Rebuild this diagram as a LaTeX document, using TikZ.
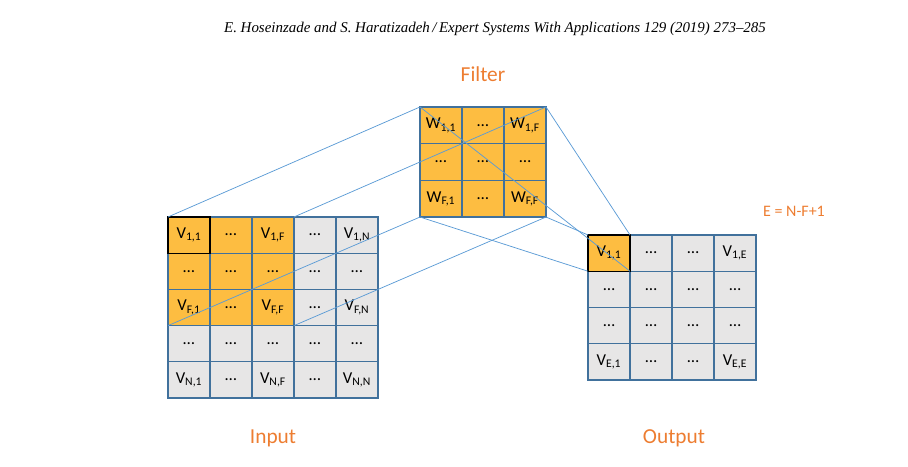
\documentclass[tikz,border=0pt]{standalone}
\usepackage{fontspec}
\setmainfont{Carlito}
\newfontfamily\headfont[Ligatures=TeX]{Liberation Serif}
\definecolor{cellorange}{HTML}{FDBD41}
\definecolor{cellgray}{HTML}{E7E6E6}
\definecolor{gridblue}{HTML}{41719C}
\definecolor{linkblue}{HTML}{5B9BD5}
\definecolor{labelorange}{HTML}{ED7D31}
\newcommand\sub[2]{\textsubscript{#1,#2}}
\newcommand\dd{\dots}

\begin{document}
\begin{tikzpicture}[x=0.75pt,y=-0.75pt,
	cell/.style={draw=gridblue,line width=1pt,fill=cellgray,minimum width=31.5pt,minimum height=27.2pt,inner sep=0pt,outer sep=0pt,font=\fontsize{12.5}{14}\selectfont},
	hot/.style={fill=cellorange},
	link/.style={draw=linkblue,line width=0.55pt},
	title/.style={text=labelorange,font=\fontsize{16}{19}\selectfont}]

	\useasboundingbox (0,0) rectangle (908,467);

	\node[font=\headfont\itshape\fontsize{11.2}{14}\selectfont] (head) at (495,29) {E. Hoseinzade and S. Haratizadeh\,/\,Expert Systems With Applications 129 (2019) 273--285};

	% input
	\foreach \t [count=\j] in {V\sub11,\dd,V\sub1F} \node[cell,hot] (in-1-\j) at ({147+42*\j},235.1) {\t};
	\foreach \t [count=\j from 4] in {\dd,V\sub1N} \node[cell] (in-1-\j) at ({147+42*\j},235.1) {\t};
	\foreach \t [count=\j] in {\dd,\dd,\dd} \node[cell,hot] (in-2-\j) at ({147+42*\j},271.3) {\t};
	\foreach \t [count=\j from 4] in {\dd,\dd} \node[cell] (in-2-\j) at ({147+42*\j},271.3) {\t};
	\foreach \t [count=\j] in {V\sub F1,\dd,V\sub FF} \node[cell,hot] (in-3-\j) at ({147+42*\j},307.5) {\t};
	\foreach \t [count=\j from 4] in {\dd,V\sub FN} \node[cell] (in-3-\j) at ({147+42*\j},307.5) {\t};
	\foreach \t [count=\j] in {\dd,\dd,\dd,\dd,\dd} \node[cell] (in-4-\j) at ({147+42*\j},343.7) {\t};
	\foreach \t [count=\j] in {V\sub N1,\dd,V\sub NF,\dd,V\sub NN} \node[cell] (in-5-\j) at ({147+42*\j},379.9) {\t};
	\draw[black,line width=1pt] (in-1-1.north west) rectangle (in-1-1.south east);

	% filter
	\foreach \t [count=\j] in {W\sub11,\dd,W\sub1F} \node[cell,hot,minimum height=27.5pt] (fl-1-\j) at ({399+42*\j},125.3) {\t};
	\foreach \t [count=\j] in {\dd,\dd,\dd} \node[cell,hot,minimum height=27.5pt] (fl-2-\j) at ({399+42*\j},162) {\t};
	\foreach \t [count=\j] in {W\sub F1,\dd,W\sub FF} \node[cell,hot,minimum height=27.5pt] (fl-3-\j) at ({399+42*\j},198.7) {\t};

	% output
	\foreach \t [count=\j] in {V\sub11,\dd,\dd,V\sub1E} \node[cell] (out-1-\j) at ({567+42*\j},253.1) {\t};
	\foreach \t [count=\j] in {\dd,\dd,\dd,\dd} \node[cell] (out-2-\j) at ({567+42*\j},289.4) {\t};
	\foreach \t [count=\j] in {\dd,\dd,\dd,\dd} \node[cell] (out-3-\j) at ({567+42*\j},325.6) {\t};
	\foreach \t [count=\j] in {V\sub E1,\dd,\dd,V\sub EE} \node[cell] (out-4-\j) at ({567+42*\j},361.9) {\t};
	\node[cell,hot,draw=black] (out-hot) at (out-1-1) {V\sub11};

	% receptive field
	\draw[link] (in-1-1.north west) -- (fl-1-1.north west);
	\draw[link] (in-1-3.north east) -- (fl-1-3.north east);
	\draw[link] (in-3-1.south west) -- (fl-3-1.south west);
	\draw[link] (in-3-3.south east) -- (fl-3-3.south east);

	% filter to output
	\draw[link] (fl-1-1.north west) -- (out-hot.south east);
	\draw[link] (fl-1-3.north east) -- (out-hot.north east);
	\draw[link] (fl-3-3.south east) -- (out-hot.north west);
	\draw[link] (fl-3-1.south west) -- (out-hot.south west);

	\node[title] (filterlab) at (483,74) {Filter};
	\node[title] (inputlab) at (273,438) {Input};
	\node[title] (outputlab) at (674,438) {Output};
	\node[text=labelorange,font=\fontsize{12}{14}\selectfont] (rule) at (794,211) {E = N-F+1};
\end{tikzpicture}
\end{document}
